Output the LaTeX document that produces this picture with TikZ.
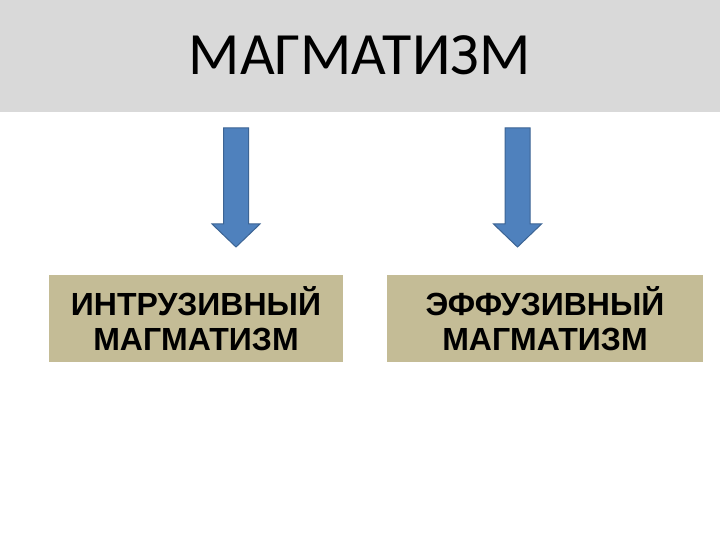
\documentclass[tikz,border=0pt]{standalone}
\usepackage{fontspec}
\setmainfont{Liberation Sans}
\newfontfamily\titlefont{Carlito}
\definecolor{bandgrey}{HTML}{D9D9D9}
\definecolor{boxtan}{HTML}{C4BC96}
\definecolor{arrowfill}{HTML}{4F81BD}
\definecolor{arrowline}{HTML}{3C6494}
\tikzset{
  kindbox/.style={fill=boxtan, draw=none, minimum width=#1, minimum height=87pt, inner sep=0pt,
    align=center, font=\fontsize{32pt}{35pt}\selectfont\bfseries},
  blockarrow/.style={fill=arrowfill, draw=arrowline, line width=1pt, line join=miter},
}
\begin{document}
\begin{tikzpicture}[x=1pt,y=-1pt]
\useasboundingbox (0,0) rectangle (720,540);
\fill[white] (0,0) rectangle (720,540);
\fill[bandgrey] (0,0) rectangle (720,112);
\node[font=\titlefont\fontsize{60pt}{60pt}\selectfont, anchor=base, inner sep=0pt] (title) at (359.5,75) {МАГМАТИЗМ};
\node[kindbox=294pt] (intr) at (196,318.5) {ИНТРУЗИВНЫЙ\\МАГМАТИЗМ};
\node[kindbox=316pt] (eff) at (545,318.5) {ЭФФУЗИВНЫЙ\\МАГМАТИЗМ};
% left arrow
\coordinate (la) at (236,128);
\draw[blockarrow] ([xshift=-12.5]la) -- ([xshift=12.5]la) -- ([xshift=12.5,yshift=-96]la) -- ([xshift=24,yshift=-96]la)
  -- ([yshift=-119]la) -- ([xshift=-24,yshift=-96]la) -- ([xshift=-12.5,yshift=-96]la) -- cycle;
% right arrow
\coordinate (ra) at (517.5,128);
\draw[blockarrow] ([xshift=-12.5]ra) -- ([xshift=12.5]ra) -- ([xshift=12.5,yshift=-96]ra) -- ([xshift=24,yshift=-96]ra)
  -- ([yshift=-119]ra) -- ([xshift=-24,yshift=-96]ra) -- ([xshift=-12.5,yshift=-96]ra) -- cycle;
\end{tikzpicture}
\end{document}
